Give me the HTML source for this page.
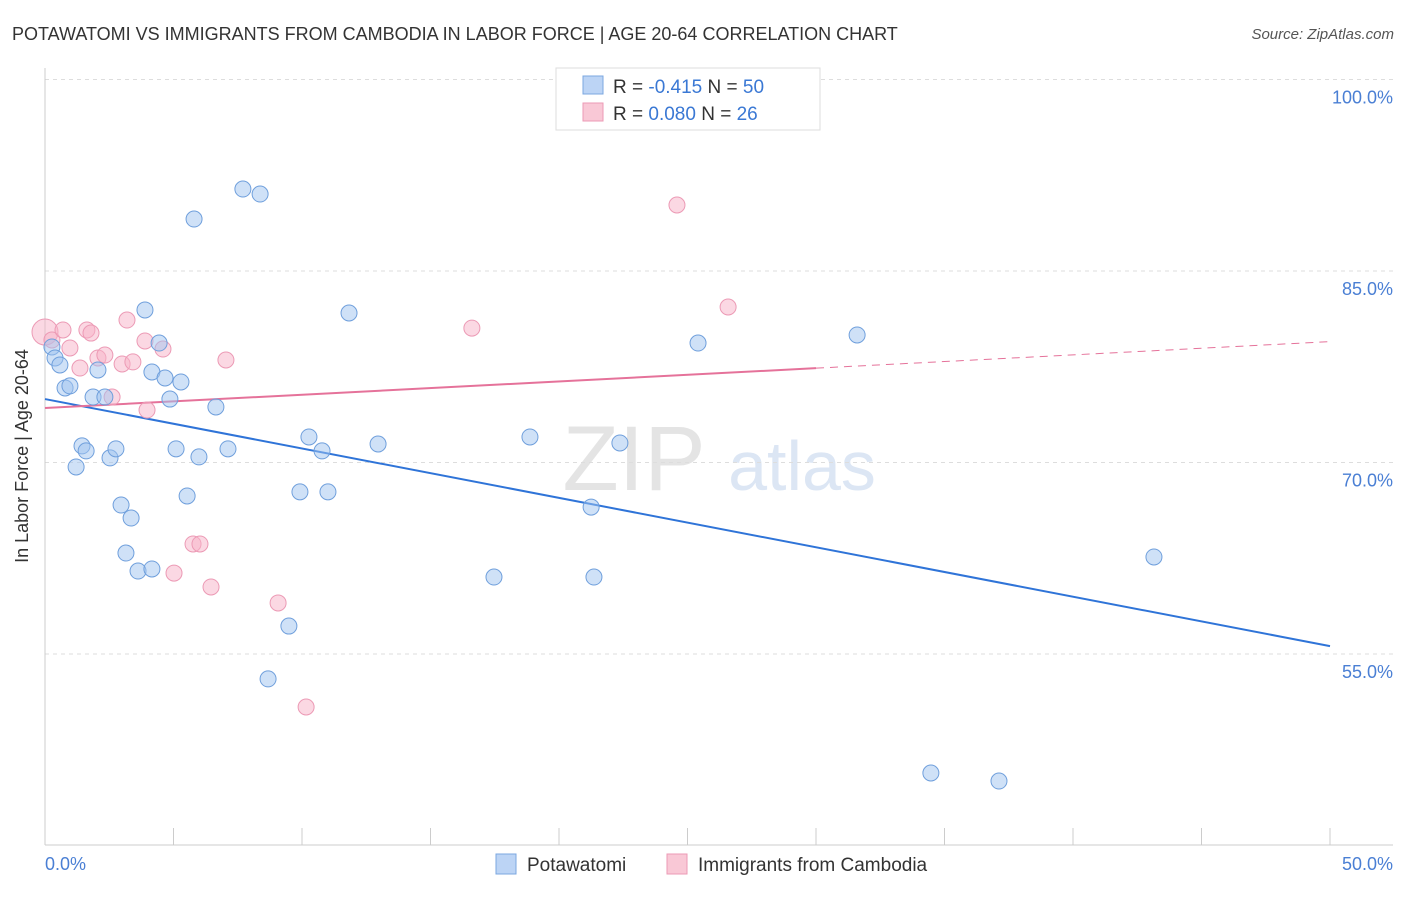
<!DOCTYPE html>
<html><head><meta charset="utf-8"><style>
body{margin:0;background:#fff;font-family:"Liberation Sans",sans-serif;}
svg text{font-family:"Liberation Sans",sans-serif;}
</style></head><body>
<svg id="c" width="1406" height="892">
<text x="12" y="40" font-size="18" fill="#333">POTAWATOMI VS IMMIGRANTS FROM CAMBODIA IN LABOR FORCE | AGE 20-64 CORRELATION CHART</text>
<text x="1394" y="39" font-size="15" fill="#555" font-style="italic" text-anchor="end">Source: ZipAtlas.com</text>
<text x="634" y="490" font-size="92" fill="#e4e4e4" font-family="Liberation Serif" text-anchor="middle">ZIP</text>
<text x="802" y="490" font-size="70" fill="#dce6f4" text-anchor="middle">atlas</text>
<g id="grid"></g><g id="axes"></g><g id="lines"></g><g id="pts"></g>
<text x="28" y="456" font-size="18" fill="#333" text-anchor="middle" transform="rotate(-90 28 456)">In Labor Force | Age 20-64</text>
<g>
<rect x="556" y="68" width="264" height="62" fill="#fff" stroke="#ddd"/>
<rect x="583" y="76" width="20" height="18" fill="#bcd4f5" stroke="#7ba7e0"/>
<text x="613" y="93" font-size="19" fill="#333">R = <tspan fill="#3a78d4">-0.415</tspan>   N = <tspan fill="#3a78d4">50</tspan></text>
<rect x="583" y="103" width="20" height="18" fill="#f9c8d6" stroke="#ec9ab5"/>
<text x="613" y="120" font-size="19" fill="#333">R =  <tspan fill="#3a78d4">0.080</tspan>   N =  <tspan fill="#3a78d4">26</tspan></text>
</g>
<g>
<rect x="496" y="854" width="20" height="20" fill="#bcd4f5" stroke="#7ba7e0"/>
<text x="527" y="871" font-size="19" fill="#333">Potawatomi</text>
<rect x="667" y="854" width="20" height="20" fill="#f9c8d6" stroke="#ec9ab5"/>
<text x="698" y="871" font-size="19" fill="#333">Immigrants from Cambodia</text>
</g>
<text x="45" y="870" font-size="18" fill="#4a7fd4">0.0%</text>
<text x="1393" y="870" font-size="18" fill="#4a7fd4" text-anchor="end">50.0%</text>
</svg>
<script>
const blueX=[0.27,0.39,0.58,0.78,0.97,1.44,1.60,1.21,1.87,2.06,2.33,2.53,2.76,2.96,3.35,3.15,3.62,4.16,3.89,4.16,4.44,4.67,4.86,5.29,5.10,5.53,5.99,5.80,6.65,7.12,7.70,8.37,8.68,9.49,9.92,10.27,10.78,11.01,11.83,12.96,17.47,18.87,21.25,21.36,22.37,25.41,31.60,34.47,37.12,43.15];
const blueY=[79.05,78.19,77.64,75.84,76.0,71.3,70.91,69.65,75.13,77.25,75.13,70.36,71.07,66.67,65.65,62.91,61.5,61.66,81.95,77.09,79.36,76.62,74.97,76.31,71.07,67.38,70.44,89.07,74.35,71.07,91.42,91.03,53.05,57.19,67.70,72.0,70.91,67.70,81.71,71.45,61.03,72.0,66.51,61.03,71.53,79.36,79.99,45.68,45.05,62.6];
const pinkX=[0,0.27,0.70,0.97,1.36,1.63,1.79,2.06,2.33,2.61,3.0,3.19,3.42,3.89,3.97,4.59,5.02,5.76,6.03,6.46,7.04,9.07,10.16,16.61,24.59,26.58];
const pinkY=[80.22,79.6,80.38,78.97,77.4,80.38,80.14,78.19,78.42,75.13,77.72,81.16,77.88,79.52,74.11,78.89,61.34,63.62,63.62,60.25,78.03,59.0,50.85,80.53,90.17,82.18];
const blueFit=[74.97,-0.387];
const pinkFit=[74.27,0.104];
const yTicks=[100,85,70,55];
const yTickLabels=["100.0%","85.0%","70.0%","55.0%"];
const xTicks=[0,5,10,15,20,25,30,35,40,45,50];
const X=v=>45+v*25.7, Y=v=>79.5+(100-v)*12.767;
const NS="http://www.w3.org/2000/svg";
function mk(t,a,p){const e=document.createElementNS(NS,t);for(const k in a)e.setAttribute(k,a[k]);document.getElementById(p).appendChild(e);return e;}
yTicks.forEach((v,i)=>{
 const l=mk('line',{x1:45,x2:1393,y1:Y(v),y2:Y(v),stroke:'#ddd','stroke-dasharray':'4,4'},'grid');
 
 
 const t=mk('text',{x:1393,y:Y(v)+24,'font-size':18,fill:'#4a7fd4','text-anchor':'end'},'grid');
 t.textContent=yTickLabels[i];
 
 
});
let a=mk('line',{x1:45,x2:45,y1:68,y2:845,stroke:'#ccc'},'axes');


a=mk('line',{x1:45,x2:1393,y1:845,y2:845,stroke:'#ccc'},'axes');


xTicks.forEach(v=>{
 const t=mk('line',{x1:X(v),x2:X(v),y1:828,y2:845,stroke:'#ccc'},'axes');
 
 
});
let ln=mk('line',{x1:X(0),y1:Y(blueFit[0]),x2:X(50),y2:Y(blueFit[0]+50*blueFit[1]),stroke:'#2f74d8','stroke-width':2},'lines');


ln=mk('line',{x1:X(0),y1:Y(pinkFit[0]),x2:X(30),y2:Y(pinkFit[0]+30*pinkFit[1]),stroke:'#e5729a','stroke-width':2},'lines');


ln=mk('line',{x1:X(30),y1:Y(pinkFit[0]+30*pinkFit[1]),x2:X(50),y2:Y(pinkFit[0]+50*pinkFit[1]),stroke:'#e5729a','stroke-width':1,'stroke-dasharray':'8,6'},'lines');


pinkX.forEach((v,i)=>{
 const c=mk('circle',{cx:X(v),cy:Y(pinkY[i]),r:i==0?13:8,fill:'rgba(247,178,200,0.5)',stroke:'#ec9ab5','stroke-width':1},'pts');
 
 
});
blueX.forEach((v,i)=>{
 const c=mk('circle',{cx:X(v),cy:Y(blueY[i]),r:8,fill:'rgba(160,196,240,0.5)',stroke:'#6f9fdc','stroke-width':1},'pts');
 
 
});
</script>
</body></html>
